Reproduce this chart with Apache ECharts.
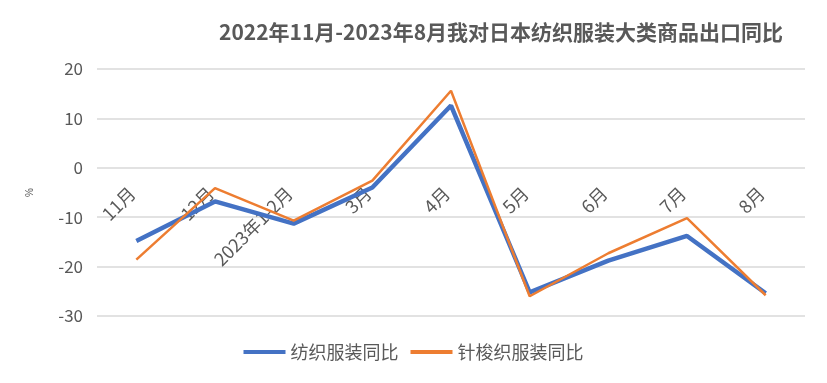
<!DOCTYPE html>
<html><head><meta charset="utf-8">
<script src="https://cdn.jsdelivr.net/npm/echarts@6/dist/echarts.min.js"></script>
<style>html,body{margin:0;padding:0;background:#fff}#c{width:827px;height:383px}</style>
</head><body><div id="c"></div>
<script>
const categories = ['11月','12月','2023年1-2月','3月','4月','5月','6月','7月','8月'];
const textileApparel = [-14.8, -6.8, -11.3, -4.0, 12.6, -25.2, -18.8, -13.8, -25.4];
const knitApparel = [-18.6, -4.1, -10.7, -2.6, 15.6, -26.0, -17.3, -10.2, -25.8];
const seriesNames = ['纺织服装同比', '针梭织服装同比'];
const yTicks = {min: -30, max: 20, interval: 10};

const font = '"Microsoft YaHei","Noto Sans CJK SC","Liberation Sans",sans-serif';
const chart = echarts.init(document.getElementById('c'));
chart.setOption({
  animation: false,
  title: {text: '2022年11月-2023年8月我对日本纺织服装大类商品出口同比', left: 214, top: 17,
    textStyle: {fontSize: 21, fontWeight: 'bold', color: '#595959', fontFamily: font}},
  legend: {bottom: 17, left: 'center', itemWidth: 42, itemHeight: 4, itemGap: 12,
    textStyle: {fontSize: 18, color: '#595959', fontFamily: font},
    data: [{name: seriesNames[0], icon: 'rect'}, {name: seriesNames[1], icon: 'rect'}]},
  grid: {left: 97, right: 22, top: 69, bottom: 67, containLabel: false, outerBoundsMode: 'none'},
  xAxis: {type: 'category', data: categories, boundaryGap: true, offset: -149,
    axisLine: {show: false, onZero: false}, axisTick: {show: false},
    axisLabel: {rotate: 45, fontSize: 18, color: '#595959', fontFamily: font, margin: 19,
      padding: [0, 6, 0, 0], interval: 0}},
  yAxis: {type: 'value', min: yTicks.min, max: yTicks.max, interval: yTicks.interval,
    name: '%', nameLocation: 'middle', nameRotate: 90, nameGap: 62,
    nameTextStyle: {fontSize: 10, color: '#595959'},
    axisLabel: {fontSize: 17, color: '#595959', fontFamily: font, margin: 14},
    splitLine: {lineStyle: {color: '#d9d9d9', width: 1.5}}},
  series: [
    {name: seriesNames[0], type: 'line', data: textileApparel, symbol: 'none', color: '#4472C4',
      lineStyle: {width: 4.5, color: '#4472C4'}},
    {name: seriesNames[1], type: 'line', data: knitApparel, symbol: 'none', color: '#ED7D31',
      lineStyle: {width: 2.5, color: '#ED7D31'}}
  ]
});
</script></body></html>
